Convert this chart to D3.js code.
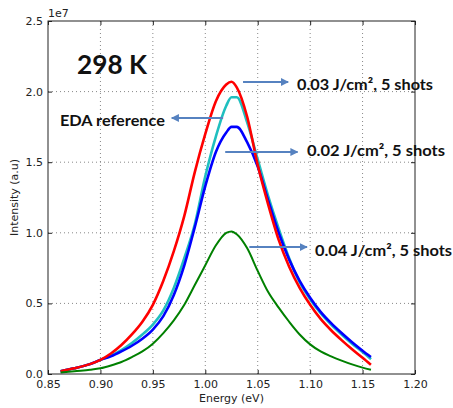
<!DOCTYPE html>
<html>
<head>
<meta charset="utf-8">
<script src="https://cdn.jsdelivr.net/npm/d3@7"></script>
<style>
  body { margin: 0; background: #fff; }
  svg { display: block; }
  .tick text { font-family: "DejaVu Sans", sans-serif; font-size: 11px; fill: #222; }
  .note { font-family: Lato, "Open Sans", sans-serif; font-weight: bold; fill: #111; }
</style>
</head>
<body>
<svg id="chart" width="453" height="408"></svg>
<script>
// energy samples (eV) shared by all curves
const energy = [0.862, 0.875, 0.89, 0.90, 0.91, 0.92, 0.93, 0.94, 0.95, 0.96, 0.97, 0.98, 0.99, 1.00,
  1.01, 1.02, 1.025, 1.03, 1.04, 1.05, 1.06, 1.07, 1.08, 1.09, 1.10, 1.11, 1.12, 1.13, 1.14, 1.15, 1.158];

// intensity in units of 1e7
const red03 = [0.02, 0.04, 0.07, 0.10, 0.145, 0.205, 0.28, 0.37, 0.49, 0.66, 0.87, 1.12, 1.43, 1.70,
  1.93, 2.05, 2.07, 2.03, 1.82, 1.48, 1.20, 0.95, 0.76, 0.61, 0.49, 0.39, 0.31, 0.24, 0.175, 0.115, 0.065];
const cyanEda = [0.02, 0.04, 0.07, 0.10, 0.13, 0.17, 0.22, 0.28, 0.35, 0.45, 0.61, 0.82, 1.06, 1.40,
  1.68, 1.90, 1.96, 1.96, 1.78, 1.52, 1.26, 1.03, 0.82, 0.65, 0.53, 0.43, 0.35, 0.28, 0.215, 0.155, 0.105];
const blue02 = [0.02, 0.04, 0.07, 0.10, 0.125, 0.16, 0.20, 0.25, 0.315, 0.41, 0.56, 0.77, 1.04, 1.33,
  1.57, 1.71, 1.75, 1.75, 1.64, 1.47, 1.23, 1.00, 0.81, 0.66, 0.54, 0.44, 0.36, 0.29, 0.225, 0.165, 0.12];
const green04 = [0.01, 0.02, 0.03, 0.04, 0.06, 0.085, 0.12, 0.16, 0.215, 0.29, 0.38, 0.49, 0.63, 0.77,
  0.91, 1.00, 1.01, 0.99, 0.89, 0.73, 0.58, 0.47, 0.37, 0.28, 0.21, 0.16, 0.125, 0.095, 0.068, 0.045, 0.03];

const xTicks = [0.85, 0.90, 0.95, 1.00, 1.05, 1.10, 1.15, 1.20];
const yTicks = [0.0, 0.5, 1.0, 1.5, 2.0, 2.5];

// annotation arrows: [fromE, fromI, toE, toI]
const arrows = [
  [1.036, 2.068, 1.079, 2.068],
  [1.017, 1.813, 0.968, 1.813],
  [1.019, 1.572, 1.088, 1.572],
  [1.042, 0.899, 1.097, 0.899]
];
const noteText = ["298 K", "EDA reference", "0.03 J/cm², 5 shots", "0.02 J/cm², 5 shots", "0.04 J/cm², 5 shots"];
const noteE = [0.8777, 0.8614, 1.0875, 1.097, 1.1046];
const noteI = [2.20, 1.80, 2.054, 1.586, 0.878];
const noteSize = [27, 15.5, 15, 15, 15];
const noteWidth = [70, 105, 136, 138, 137];

const margin = { top: 21, left: 48 };
const width = 367, height = 353;

const svg = d3.select("#chart");
const g = svg.append("g").attr("transform", `translate(${margin.left},${margin.top})`);

const x = d3.scaleLinear().domain([0.85, 1.20]).range([0, width]);
const y = d3.scaleLinear().domain([0, 2.5]).range([height, 0]);

// grid
g.append("g").selectAll("line").data(xTicks.slice(1, -1)).join("line")
  .attr("x1", d => x(d)).attr("x2", d => x(d)).attr("y1", 0).attr("y2", height)
  .attr("stroke", "#888").attr("stroke-dasharray", "1,3");
g.append("g").selectAll("line").data(yTicks.slice(1, -1)).join("line")
  .attr("y1", d => y(d)).attr("y2", d => y(d)).attr("x1", 0).attr("x2", width)
  .attr("stroke", "#888").attr("stroke-dasharray", "1,3");

// curves
const series = [
  { vals: cyanEda, color: "#1fbfbf", w: 2.6 },
  { vals: blue02, color: "#0000ff", w: 2.6 },
  { vals: red03, color: "#ff0000", w: 2.6 },
  { vals: green04, color: "#008000", w: 2 }
];
const line = d3.line().x(d => x(d[0])).y(d => y(d[1])).curve(d3.curveMonotoneX);
series.forEach(s => {
  g.append("path")
    .datum(energy.map((e, i) => [e, s.vals[i]]))
    .attr("fill", "none").attr("stroke", s.color).attr("stroke-width", s.w)
    .attr("stroke-linejoin", "round").attr("d", line);
});

// axes (inward ticks on all sides)
const fmtX = d3.format(".2f"), fmtY = d3.format(".1f");
g.append("g").attr("transform", `translate(0,${height})`)
  .call(d3.axisBottom(x).tickValues(xTicks).tickFormat(fmtX).tickSizeInner(-4).tickSizeOuter(0).tickPadding(6))
  .call(a => a.select(".domain").remove());
g.append("g")
  .call(d3.axisLeft(y).tickValues(yTicks).tickFormat(fmtY).tickSizeInner(-4).tickSizeOuter(0).tickPadding(5))
  .call(a => a.select(".domain").remove());
g.append("g")
  .call(d3.axisTop(x).tickValues(xTicks).tickFormat("").tickSizeInner(-4).tickSizeOuter(0))
  .call(a => a.select(".domain").remove());
g.append("g").attr("transform", `translate(${width},0)`)
  .call(d3.axisRight(y).tickValues(yTicks).tickFormat("").tickSizeInner(-4).tickSizeOuter(0))
  .call(a => a.select(".domain").remove());
g.selectAll(".tick line").attr("stroke", "#222");

g.append("rect").attr("width", width).attr("height", height)
  .attr("fill", "none").attr("stroke", "#222").attr("stroke-width", 1);

// labels
svg.append("text").attr("x", margin.left).attr("y", 17)
  .style("font-family", "DejaVu Sans").style("font-size", "11px").attr("fill", "#222").text("1e7");
svg.append("text").attr("x", margin.left + width / 2).attr("y", 402).attr("text-anchor", "middle")
  .style("font-family", "DejaVu Sans").style("font-size", "11px").attr("fill", "#222").text("Energy (eV)");
svg.append("text").attr("transform", `translate(18,${margin.top + height / 2}) rotate(-90)`)
  .attr("text-anchor", "middle")
  .style("font-family", "DejaVu Sans").style("font-size", "11px").attr("fill", "#222").text("Intensity (a.u)");

// annotations
svg.append("defs").append("marker")
  .attr("id", "head").attr("viewBox", "0 0 10 10").attr("refX", 9).attr("refY", 5)
  .attr("markerWidth", 4).attr("markerHeight", 4).attr("orient", "auto")
  .append("path").attr("d", "M0,0L10,5L0,10z").attr("fill", "#5682c0");

g.selectAll(".arrow").data(arrows).join("line").attr("class", "arrow")
  .attr("x1", d => x(d[0])).attr("y1", d => y(d[1]))
  .attr("x2", d => x(d[2])).attr("y2", d => y(d[3]))
  .attr("stroke", "#5682c0").attr("stroke-width", 2).attr("marker-end", "url(#head)");

g.selectAll(".note").data(noteText).join("text").attr("class", "note")
  .attr("x", (d, i) => x(noteE[i])).attr("y", (d, i) => y(noteI[i]))
  .attr("dominant-baseline", "central")
  .attr("textLength", (d, i) => noteWidth[i]).attr("lengthAdjust", "spacingAndGlyphs")
  .style("font-size", (d, i) => noteSize[i] + "px")
  .text(d => d);
</script>
</body>
</html>
